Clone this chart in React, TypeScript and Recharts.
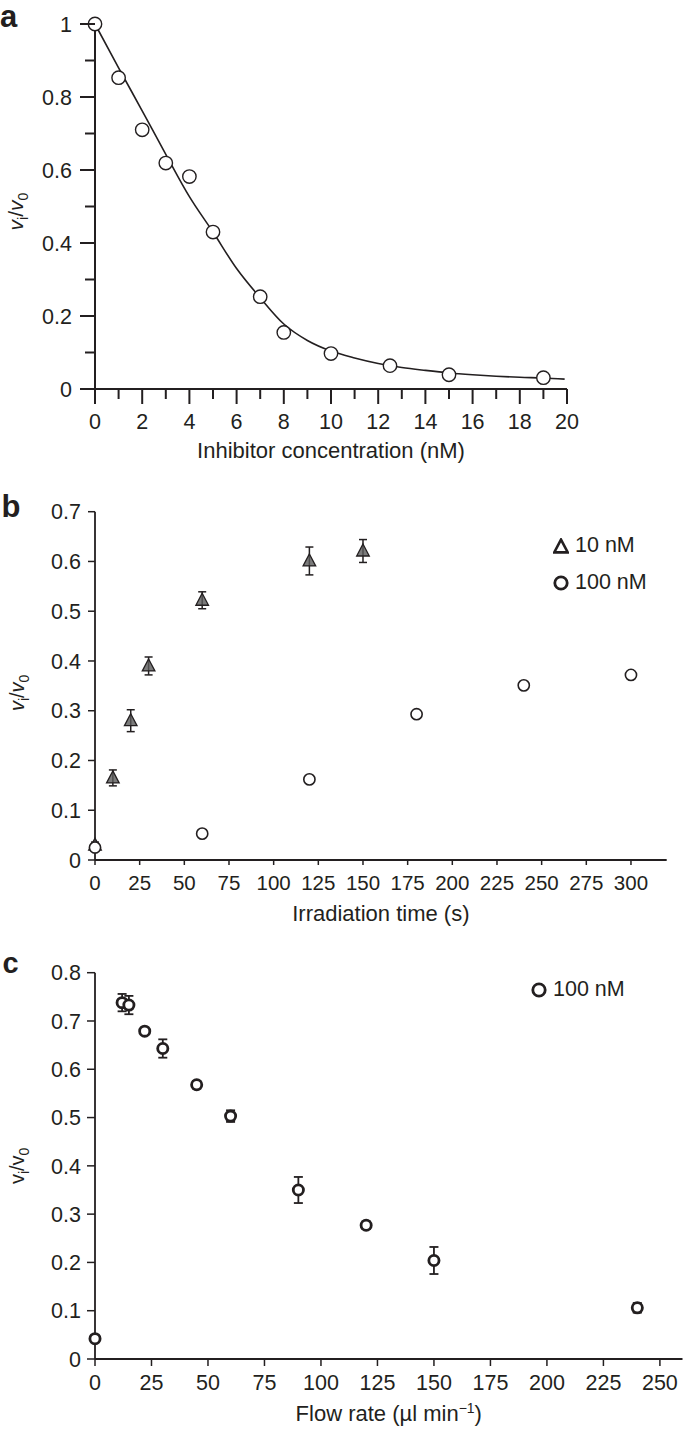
import React from 'react';
import { ComposedChart, Scatter, Line, XAxis, YAxis, ErrorBar, Legend, Label } from 'recharts';

const FONT = '"Liberation Sans", Arial, Helvetica, sans-serif';
const INK = '#231f20';

// ---------- Panel a ----------
const aConc = [0, 1, 2, 3, 4, 5, 7, 8, 10, 12.5, 15, 19];
const aRatio = [1.0, 0.853, 0.71, 0.619, 0.582, 0.43, 0.253, 0.155, 0.097, 0.064, 0.039, 0.031];
const aFitConc = [0, 1, 2, 3, 4, 5, 6, 7, 8, 9, 10, 11, 12, 13, 14, 15, 16, 17, 18, 19, 19.9];
const aFitRatio = [1.0, 0.88, 0.762, 0.643, 0.527, 0.43, 0.33, 0.25, 0.178, 0.133, 0.104, 0.085, 0.07, 0.059, 0.051, 0.044, 0.039, 0.035, 0.032, 0.03, 0.027];
const aXTicks = [0, 1, 2, 3, 4, 5, 6, 7, 8, 9, 10, 11, 12, 13, 14, 15, 16, 17, 18, 19, 20];
const aYTicks = [0, 0.1, 0.2, 0.3, 0.4, 0.5, 0.6, 0.7, 0.8, 0.9, 1];

// ---------- Panel b ----------
const b10Time = [0, 10, 20, 30, 60, 120, 150];
const b10Ratio = [0.03, 0.165, 0.28, 0.39, 0.522, 0.601, 0.621];
const b10Err = [0.006, 0.016, 0.022, 0.018, 0.017, 0.028, 0.023];
const b100Time = [0, 60, 120, 180, 240, 300];
const b100Ratio = [0.025, 0.053, 0.162, 0.293, 0.351, 0.372];
const bXTicks = [0, 25, 50, 75, 100, 125, 150, 175, 200, 225, 250, 275, 300];
const bYTicks = [0, 0.1, 0.2, 0.3, 0.4, 0.5, 0.6, 0.7];

// ---------- Panel c ----------
const cFlow = [0, 12, 15, 22, 30, 45, 60, 90, 120, 150, 240];
const cRatio = [0.042, 0.738, 0.733, 0.679, 0.643, 0.568, 0.503, 0.35, 0.277, 0.204, 0.106];
const cErr = [0.004, 0.018, 0.019, 0.005, 0.019, 0.008, 0.012, 0.027, 0.008, 0.028, 0.01];
const cXTicks = [0, 25, 50, 75, 100, 125, 150, 175, 200, 225, 250];
const cYTicks = [0, 0.1, 0.2, 0.3, 0.4, 0.5, 0.6, 0.7, 0.8];

const aPoints = aConc.map((x, i) => ({ x, y: aRatio[i] }));
const aFit = aFitConc.map((x, i) => ({ x, y: aFitRatio[i] }));
const b10 = b10Time.map((x, i) => ({ x, y: b10Ratio[i], err: b10Err[i] }));
const b100 = b100Time.map((x, i) => ({ x, y: b100Ratio[i] }));
const cPoints = cFlow.map((x, i) => ({ x, y: cRatio[i], err: cErr[i] }));

type TickCfg = {
  len: (v: number) => number;
  label: (v: number) => string | null;
  gap: number;
  fontSize: number;
  sw: number;
};

const makeXTick = (cfg: TickCfg) => (props: any) => {
  const { x, y, payload } = props;
  const v = payload.value;
  const lab = cfg.label(v);
  return (
    <g>
      <line x1={x} x2={x} y1={y} y2={y + cfg.len(v)} stroke={INK} strokeWidth={cfg.sw} />
      {lab !== null && (
        <text x={x} y={y + cfg.gap} textAnchor="middle" fontFamily={FONT} fontSize={cfg.fontSize} fill={INK}>
          {lab}
        </text>
      )}
    </g>
  );
};

const makeYTick = (cfg: TickCfg) => (props: any) => {
  const { x, y, payload } = props;
  const v = payload.value;
  const lab = cfg.label(v);
  return (
    <g>
      <line x1={x - cfg.len(v)} x2={x} y1={y} y2={y} stroke={INK} strokeWidth={cfg.sw} />
      {lab !== null && (
        <text x={x - cfg.gap} y={y + cfg.fontSize * 0.36} textAnchor="end" fontFamily={FONT} fontSize={cfg.fontSize} fill={INK}>
          {lab}
        </text>
      )}
    </g>
  );
};

const makeYLabel = (italic: boolean, fontSize: number, bx: number, dyc: number) => (props: any) => {
  const vb = props.viewBox || { x: 0, y: 0, width: 0, height: 0 };
  const cx = vb.x + bx;
  const cy = vb.y + vb.height / 2 + dyc;
  const st = italic ? 'italic' : 'normal';
  const sub = Math.round(fontSize * 0.68);
  return (
    <text transform={`translate(${cx},${cy}) rotate(-90)`} textAnchor="middle" fontFamily={FONT} fontSize={fontSize} fill={INK}>
      <tspan fontStyle={st}>v</tspan>
      <tspan fontSize={sub} dy={5}>i</tspan>
      <tspan dy={-5}>/</tspan>
      <tspan fontStyle={st}>v</tspan>
      <tspan fontSize={sub} dy={5}>0</tspan>
    </text>
  );
};

const makeXLabel = (text: string, fontSize: number, base: number, sup?: string) => (props: any) => {
  const vb = props.viewBox || { x: 0, y: 0, width: 0, height: 0 };
  const cx = vb.x + vb.width / 2;
  const y = vb.y + base;
  return (
    <text x={cx} y={y} textAnchor="middle" fontFamily={FONT} fontSize={fontSize} fill={INK}>
      {sup ? (
        <>
          <tspan>{text}</tspan>
          <tspan fontSize={Math.round(fontSize * 0.65)} dy={-8}>{sup}</tspan>
          <tspan dy={8}>)</tspan>
        </>
      ) : (
        text
      )}
    </text>
  );
};

const LegendContent = (props: any) => {
  const payload = props.payload || [];
  return (
    <div style={{ fontFamily: FONT, fontSize: 21.5, color: INK }}>
      {payload.map((e: any) => (
        <div key={e.value} style={{ display: 'flex', alignItems: 'center', height: 37 }}>
          <svg width={16} height={16} style={{ display: 'block' }}>
            {e.type === 'triangle' ? (
              <polygon points="8,1.6 14.8,14.4 1.2,14.4" fill="none" stroke={INK} strokeWidth={2.6} strokeLinejoin="miter" />
            ) : (
              <circle cx={8} cy={8} r={6.2} fill="none" stroke={INK} strokeWidth={2.8} />
            )}
          </svg>
          <span style={{ marginLeft: 6, lineHeight: '37px' }}>{e.value}</span>
        </div>
      ))}
    </div>
  );
};

const OpenCircle = (r: number, sw: number) => (props: any) => {
  const { cx, cy } = props;
  if (cx == null || cy == null) return <g />;
  return <circle cx={cx} cy={cy} r={r} fill="#fff" stroke={INK} strokeWidth={sw} />;
};

const Triangle = (props: any) => {
  const { cx, cy } = props;
  if (cx == null || cy == null) return <g />;
  return (
    <polygon
      points={`${cx},${cy - 7} ${cx + 6.3},${cy + 5} ${cx - 6.3},${cy + 5}`}
      fill="#5a5a5a"
      fillOpacity={0.8}
      stroke={INK}
      strokeWidth={1.3}
    />
  );
};

const fmt = (v: number) => String(Math.round(v * 10) / 10);

function PanelA() {
  return (
    <ComposedChart width={685} height={470} margin={{ top: 24, right: 118, bottom: 11, left: 0 }}>
      <XAxis
        type="number"
        dataKey="x"
        domain={[0, 20]}
        ticks={aXTicks}
        interval={0}
        height={70}
        tickSize={0}
        tickMargin={0}
        tickLine={false}
        axisLine={{ stroke: INK, strokeWidth: 2 }}
        tick={makeXTick({
          len: (v) => (v % 2 === 0 ? 15 : 10),
          label: (v) => (v % 2 === 0 ? String(v) : null),
          gap: 40,
          fontSize: 21.5,
          sw: 2,
        })}
      >
        <Label content={makeXLabel('Inhibitor concentration (nM)', 22, 69)} />
      </XAxis>
      <YAxis
        type="number"
        dataKey="y"
        domain={[0, 1]}
        ticks={aYTicks}
        interval={0}
        width={95}
        tickSize={0}
        tickMargin={0}
        tickLine={false}
        axisLine={{ stroke: INK, strokeWidth: 2 }}
        tick={makeYTick({
          len: (v) => (Math.round(v * 10) % 2 === 0 ? 15 : 10),
          label: (v) => (Math.round(v * 10) % 2 === 0 ? fmt(v) : null),
          gap: 23,
          fontSize: 21.5,
          sw: 2,
        })}
      >
        <Label content={makeYLabel(true, 21, 23, 5)} />
      </YAxis>
      <Line data={aFit} dataKey="y" type="monotone" stroke={INK} strokeWidth={1.6} dot={false} activeDot={false} isAnimationActive={false} />
      <Scatter data={aPoints} dataKey="y" shape={OpenCircle(6.7, 1.4)} isAnimationActive={false} />
    </ComposedChart>
  );
}

function PanelB() {
  return (
    <ComposedChart width={685} height={460} margin={{ top: 41.7, right: 18.3, bottom: 8, left: 0 }}>
      <XAxis
        type="number"
        dataKey="x"
        domain={[0, 320]}
        ticks={bXTicks}
        interval={0}
        height={62}
        tickSize={0}
        tickMargin={0}
        tickLine={false}
        axisLine={{ stroke: INK, strokeWidth: 1.8 }}
        tick={makeXTick({ len: () => 5, label: (v) => String(v), gap: 30, fontSize: 20.5, sw: 1.5 })}
      >
        <Label content={makeXLabel('Irradiation time (s)', 22, 61)} />
      </XAxis>
      <YAxis
        type="number"
        dataKey="y"
        domain={[0, 0.7]}
        ticks={bYTicks}
        interval={0}
        width={95}
        tickSize={0}
        tickMargin={0}
        tickLine={false}
        axisLine={{ stroke: INK, strokeWidth: 1.8 }}
        tick={makeYTick({ len: () => 7, label: (v) => fmt(v), gap: 14, fontSize: 21.5, sw: 1.5 })}
      >
        <Label content={makeYLabel(true, 20, 24, 7)} />
      </YAxis>
      <Legend
        layout="vertical"
        align="center"
        verticalAlign="middle"
        content={LegendContent}
        wrapperStyle={{ left: 553, top: 57, width: 'auto', right: 'auto', bottom: 'auto' }}
      />
      <Scatter name="10 nM" legendType="triangle" data={b10} dataKey="y" shape={Triangle} isAnimationActive={false}>
        <ErrorBar dataKey="err" direction="y" width={4} stroke={INK} strokeWidth={1.5} />
      </Scatter>
      <Scatter name="100 nM" legendType="circle" data={b100} dataKey="y" shape={OpenCircle(5.6, 1.6)} isAnimationActive={false} />
    </ComposedChart>
  );
}

function PanelC() {
  return (
    <ComposedChart width={685} height={500} margin={{ top: 42.7, right: 2.5, bottom: 9, left: 0 }}>
      <XAxis
        type="number"
        dataKey="x"
        domain={[0, 260]}
        ticks={cXTicks}
        interval={0}
        height={62}
        tickSize={0}
        tickMargin={0}
        tickLine={false}
        axisLine={{ stroke: INK, strokeWidth: 1.8 }}
        tick={makeXTick({ len: () => 7, label: (v) => String(v), gap: 31, fontSize: 21.5, sw: 1.5 })}
      >
        <Label content={makeXLabel('Flow rate (\u00b5l min', 22, 62, '\u22121')} />
      </XAxis>
      <YAxis
        type="number"
        dataKey="y"
        domain={[0, 0.8]}
        ticks={cYTicks}
        interval={0}
        width={95}
        tickSize={0}
        tickMargin={0}
        tickLine={false}
        axisLine={{ stroke: INK, strokeWidth: 1.8 }}
        tick={makeYTick({ len: () => 8, label: (v) => fmt(v), gap: 14, fontSize: 21.5, sw: 1.5 })}
      >
        <Label content={makeYLabel(false, 20, 24, 0)} />
      </YAxis>
      <Legend
        layout="vertical"
        align="center"
        verticalAlign="middle"
        content={LegendContent}
        wrapperStyle={{ left: 531, top: 41, width: 'auto', right: 'auto', bottom: 'auto' }}
      />
      <Scatter name="100 nM" legendType="circle" data={cPoints} dataKey="y" shape={OpenCircle(5.1, 2.8)} isAnimationActive={false}>
        <ErrorBar dataKey="err" direction="y" width={4.5} stroke={INK} strokeWidth={1.8} />
      </Scatter>
    </ComposedChart>
  );
}

export default function App() {
  return (
    <div style={{ position: 'absolute', left: 0, top: 0, width: 685, height: 1430, background: '#fff', overflow: 'hidden' }}>
      <div style={{ position: 'absolute', left: 0, top: 0 }}>
        <PanelA />
      </div>
      <div style={{ position: 'absolute', left: 0, top: 470 }}>
        <PanelB />
      </div>
      <div style={{ position: 'absolute', left: 0, top: 930 }}>
        <PanelC />
      </div>
      <svg width={685} height={1430} style={{ position: 'absolute', left: 0, top: 0, pointerEvents: 'none' }}>
        <text x={0} y={26.7} fontFamily={FONT} fontWeight="bold" fontSize={31} fill={INK}>a</text>
        <text x={1.5} y={516.7} fontFamily={FONT} fontWeight="bold" fontSize={31} fill={INK}>b</text>
        <text x={2.5} y={972.7} fontFamily={FONT} fontWeight="bold" fontSize={29} fill={INK}>c</text>
      </svg>
    </div>
  );
}
